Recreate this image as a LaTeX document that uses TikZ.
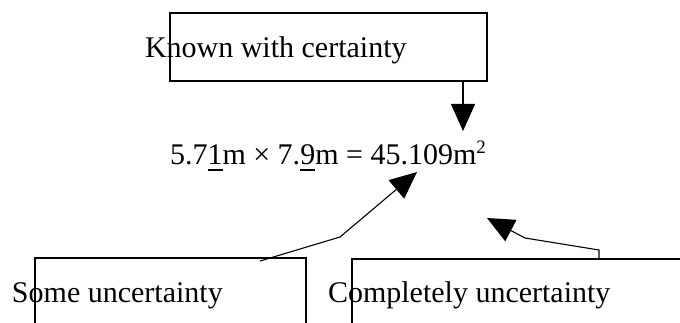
\documentclass[tikz,border=0pt]{standalone}
\usepackage{fontspec}
\setmainfont{Liberation Serif}
\usetikzlibrary{arrows.meta,positioning,calc}
\newcommand\myul[1]{\setbox0\hbox{#1}\rlap{\rule[-6pt]{\wd0}{1.6pt}}#1}
\newcommand\mysqr{{\fontsize{19}{20}\selectfont\raisebox{11pt}{2}}}
\tikzset{
  boxshape/.style={draw,line width=1.1pt,inner sep=0pt,outer sep=0pt,rectangle},
  lbl/.style={inner sep=0pt,outer sep=0pt,anchor=base west,font=\fontsize{30}{36}\selectfont},
  conn/.style={draw,line width=1.1pt,-{Triangle[length=27pt,width=24pt]}}
}
\begin{document}
\begin{tikzpicture}[x=1pt,y=-1pt]
\useasboundingbox (0,0) rectangle (680,323);
\clip (0,0) rectangle (680,323);
% boxes
\node[boxshape,minimum width=317pt,minimum height=68pt,anchor=north west] (known) at (170,13) {};
\node[boxshape,minimum width=271pt,minimum height=90pt,anchor=north west] (some) at (35,258) {};
\node[boxshape,minimum width=360pt,minimum height=90pt,anchor=north west] (compl) at (352,259) {};
% texts
\node[lbl] (knowntxt) at (145,58) {Known with certainty};
\node[lbl] (eq) at (170,165) {5.7\myul{1}m × 7.\myul{9}m = 45.109m\mysqr};
\node[lbl] (sometxt) at (12,302) {Some uncertainty};
\node[lbl] (compltxt) at (328,302) {Completely uncertainty};
% connector points
\coordinate (a1) at (463,81);
\coordinate (a1t) at (463,131);
\coordinate (b1) at (260,261);
\coordinate (b2) at (340,237);
\coordinate (b3) at (417,172);
\coordinate (c1) at (599,259);
\coordinate (c2) at (599,250);
\coordinate (c3) at (525,238);
\coordinate (c4) at (487,218);
% connectors
\draw[conn] (a1) -- (a1t);
\draw[conn] (b1) -- (b2) -- (b3);
\draw[conn] (c1) -- (c2) -- (c3) -- (c4);
\end{tikzpicture}
\end{document}
